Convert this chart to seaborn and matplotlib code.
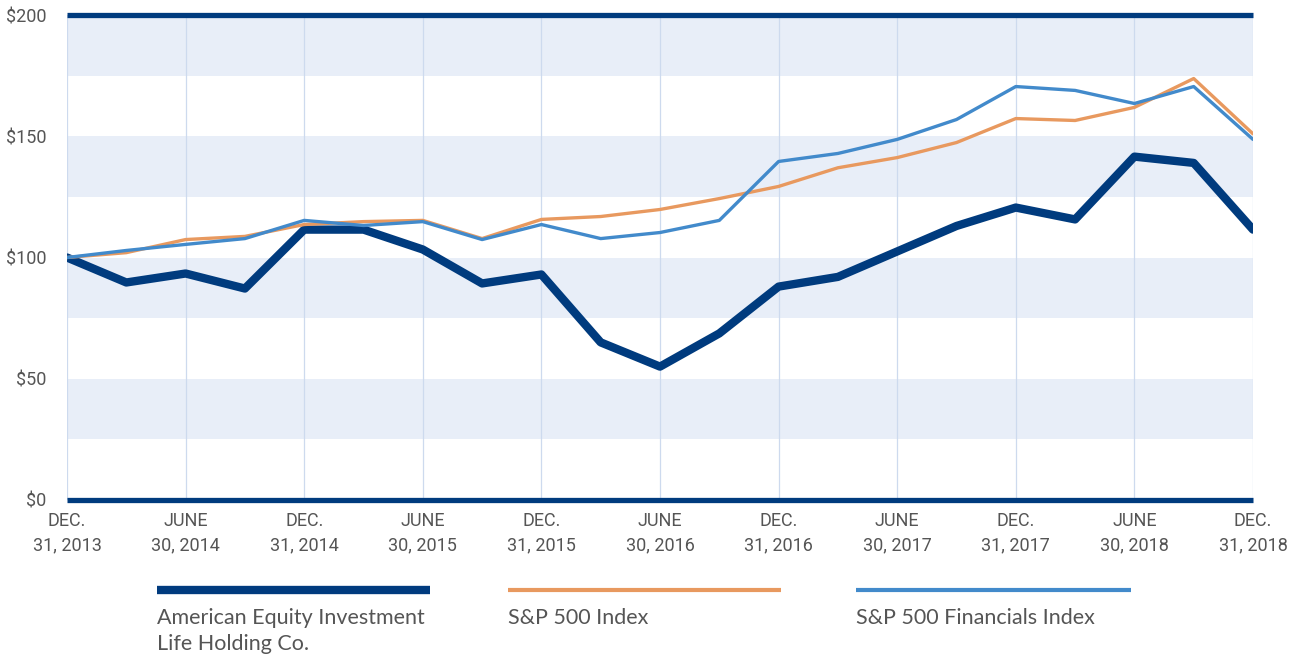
import pandas as pd
import matplotlib
matplotlib.use("Agg")
import matplotlib.pyplot as plt
from matplotlib.lines import Line2D
import seaborn as sns

# quarterly values, Dec 31 2013 .. Dec 31 2018
quarter = list(range(21))
ael = [100, 89.7, 93.4, 87.2, 111.5, 111.5, 103.3, 89.3, 93.0, 65.0, 55.0,
       68.7, 88.0, 92.0, 102.5, 113.0, 120.6, 115.7, 141.6, 139.0, 111.5]
sp500 = [100, 102.0, 107.4, 108.7, 113.6, 114.8, 115.3, 107.8, 115.7, 116.9, 119.8,
         124.3, 129.3, 137.0, 141.2, 147.4, 157.3, 156.5, 161.9, 173.8, 151.0]
spfin = [100, 102.9, 105.4, 107.8, 115.3, 113.2, 114.8, 107.4, 113.6, 107.8, 110.3,
         115.3, 139.6, 142.9, 148.7, 156.9, 170.5, 168.9, 163.5, 170.5, 148.7]

tick_pos = list(range(0, 21, 2))
tick_labels = ["DEC.\n31, 2013", "JUNE\n30, 2014", "DEC.\n31, 2014", "JUNE\n30, 2015",
               "DEC.\n31, 2015", "JUNE\n30, 2016", "DEC.\n31, 2016", "JUNE\n30, 2017",
               "DEC.\n31, 2017", "JUNE\n30, 2018", "DEC.\n31, 2018"]
y_ticks = [0, 50, 100, 150, 200]
bands = [(25, 50), (75, 100), (125, 150), (175, 200)]

names = ["American Equity Investment\nLife Holding Co.", "S&P 500 Index", "S&P 500 Financials Index"]
colors = ["#003b7e", "#e8995f", "#428acb"]
widths = [6.0, 2.4, 2.4]

sns.set_style("white")
plt.rcParams['font.family'] = ['Roboto', 'DejaVu Sans']

fig = plt.figure(figsize=(12.98, 6.59), dpi=100)
ax = fig.add_axes([67/1298, 159/659, 1186/1298, 485/659])

for lo, hi in bands:
    ax.axhspan(lo, hi, color="#e8eef8", lw=0, zorder=0)
for p in tick_pos:
    ax.axvline(p, color="#cddaee", lw=0.9, zorder=1)

data = pd.DataFrame({"quarter": quarter * 3,
                     "value": ael + sp500 + spfin,
                     "series": [names[0]] * 21 + [names[1]] * 21 + [names[2]] * 21})
for name, c, w in zip(names, colors, widths):
    sns.lineplot(data=data[data.series == name], x="quarter", y="value",
                 color=c, lw=w, ax=ax, zorder=3 if w > 3 else 4)

for yv in (0, 200):
    ax.axhline(yv, color="#003b7e", lw=3.8, zorder=5, clip_on=False, solid_capstyle="butt")

ax.set_xlim(0, 20)
ax.set_ylim(0, 200)
ax.set_xticks(tick_pos)
ax.set_xticklabels(tick_labels, fontsize=13, color="#555555", linespacing=1.45)
ax.set_yticks(y_ticks)
ax.set_yticklabels(["$" + str(v) for v in y_ticks], fontsize=13, color="#555555")
ax.tick_params(axis="x", length=0, pad=9)
ax.tick_params(axis="y", length=0, pad=15)
ax.set_xlabel("")
ax.set_ylabel("")
for s in ax.spines.values():
    s.set_visible(False)
if ax.get_legend():
    ax.get_legend().remove()

# legend below the chart
leg_x = [(157, 430), (508, 781), (856, 1131)]
for (x0, x1), c, w, name in zip(leg_x, colors, [6.0, 3.0, 3.0], names):
    fig.add_artist(Line2D([x0/1298, x1/1298], [1 - 590/659, 1 - 590/659],
                          color=c, lw=w, solid_capstyle="butt"))
    fig.text(x0/1298, 1 - 608/659, name, fontsize=15.5, color="#555555",
             va="top", ha="left", family=["Lato", "DejaVu Sans"], linespacing=1.35)

fig.savefig("out.png", dpi=100)
